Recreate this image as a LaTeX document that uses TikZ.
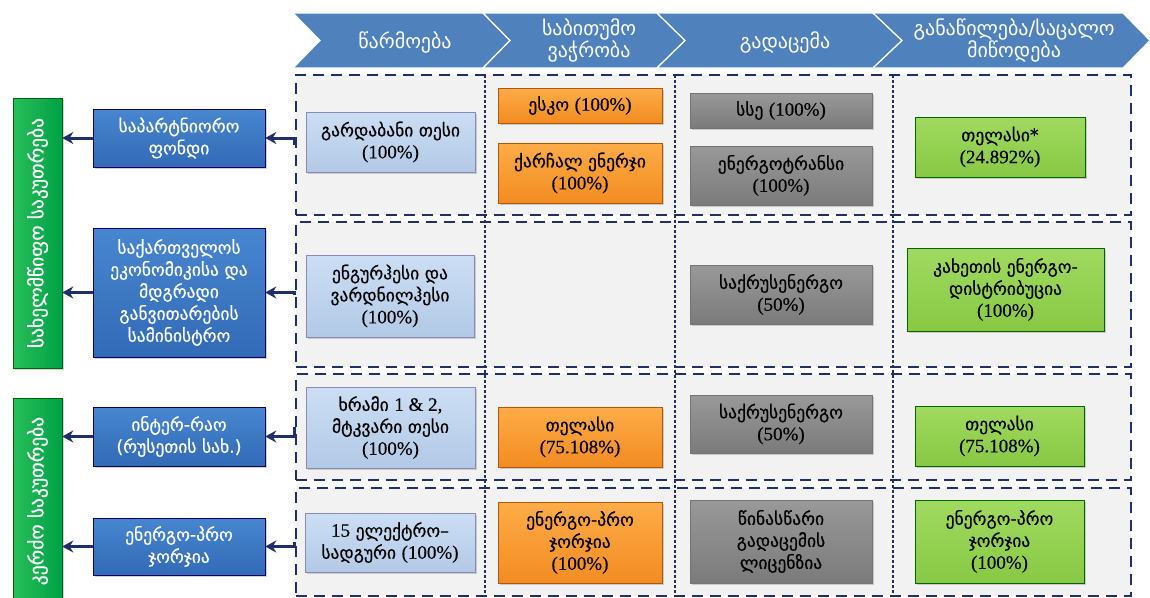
\documentclass[tikz,border=0pt]{standalone}
\usepackage{fontspec}
\setmainfont{DejaVu Sans}
\newfontfamily\heavyfont{DejaVu Sans}[FakeBold=0.5]
\newfontfamily\numfont{Liberation Serif}[FakeBold=0.3]
\usetikzlibrary{arrows.meta,shadows}

\definecolor{chevblue}{HTML}{4F81BD}
\definecolor{navyline}{HTML}{1F2F6B}
\definecolor{rowgray}{HTML}{F2F2F2}
\newcommand{\pshare}[1]{{\numfont\fontsize{19}{22}\selectfont(#1\%)}}

\begin{document}
\begin{tikzpicture}[x=1pt, y=-1pt,
    sz/.style 2 args={minimum width=#1pt, minimum height=#2pt},
    box/.style={rectangle, align=center, inner sep=1pt, line width=0.5pt,
        font=\heavyfont\fontsize{17.5}{22}\selectfont,
        drop shadow={shadow xshift=1.5pt, shadow yshift=-2pt, opacity=0.35}},
    gen/.style={box, draw=white!60!blue!40!gray, top color={rgb,255:red,204;green,222;blue,244}, bottom color={rgb,255:red,178;green,201;blue,230}},
    trade/.style={box, draw=orange!70!black, top color={rgb,255:red,253;green,172;blue,72}, bottom color={rgb,255:red,242;green,140;blue,34}},
    trans/.style={box, draw=black!55, top color=black!40, bottom color=black!52},
    distr/.style={box, draw=green!40!black, top color={rgb,255:red,160;green,218;blue,96}, bottom color={rgb,255:red,136;green,200;blue,68}},
    owner/.style={box, draw=blue!40!black, top color={rgb,255:red,72;green,134;blue,208}, bottom color={rgb,255:red,50;green,106;blue,182}, text=white},
    sector/.style={box, draw=green!40!black, left color={rgb,255:red,40;green,190;blue,90}, right color={rgb,255:red,0;green,160;blue,70}, text=white, rotate=90,
        font=\heavyfont\fontsize{19.5}{22}\selectfont},
    rowbox/.style={rectangle, draw=navyline, fill=rowgray, line width=2.6pt, dash pattern=on 11pt off 7pt},
    coldash/.style={draw=navyline, line width=1.1pt, dash pattern=on 3pt off 2pt},
    chev/.style={fill=chevblue, draw=white, line width=1.2pt},
    head/.style={text=white, align=center, font=\fontsize{20}{22}\selectfont},
    arr/.style={draw=navyline, line width=3pt, -{Stealth[length=11pt, width=12pt]}}]

    \fill[white] (0,0) rectangle (1150,597);
    \useasboundingbox (0,0) rectangle (1150,597);
    \clip (0,0) rectangle (1150,597);

    % header
    \filldraw[chev] (293,13) -- (483,13) -- (510,40.5) -- (483,68) -- (293,68) -- (320,40.5) -- cycle;
    \filldraw[chev] (483,13) -- (657,13) -- (685,40.5) -- (657,68) -- (483,68) -- (510,40.5) -- cycle;
    \filldraw[chev] (657,13) -- (873,13) -- (902,40.5) -- (873,68) -- (657,68) -- (685,40.5) -- cycle;
    \filldraw[chev] (873,13) -- (1123,13) -- (1150,40.5) -- (1123,68) -- (873,68) -- (902,40.5) -- cycle;
    \node[head] (hd1) at (405,42) {წარმოება};
    \node[head] (hd2) at (589,40) {საბითუმო\\ვაჭრობა};
    \node[head] (hd3) at (785,42) {გადაცემა};
    \node[head] (hd4) at (1014,40) {განაწილება/საცალო\\მიწოდება};

    % rows
    \node[rowbox, sz={835}{140}] (row1) at (713.5,145) {};
    \node[rowbox, sz={835}{145}] (row2) at (713.5,294.5) {};
    \node[rowbox, sz={835}{106}] (row3) at (713.5,427) {};
    \node[rowbox, sz={835}{108}] (row4) at (713.5,542) {};

    % column lines
    \draw[coldash] (485,75) -- (485,597);
    \draw[coldash] (675,75) -- (675,597);
    \draw[coldash] (893,75) -- (893,597);

    % production
    \node[gen, sz={169}{60}] (gen1) at (390.5,142) {გარდაბანი თესი\\\pshare{100}};
    \node[gen, sz={168}{82}] (gen2) at (390,296) {ენგურჰესი და\\ვარდნილჰესი\\\pshare{100}};
    \node[gen, sz={169}{81}] (gen3) at (390.5,427.5) {ხრამი {\numfont\fontsize{19}{22}\selectfont 1 \& 2,}\\მტკვარი თესი\\\pshare{100}};
    \node[gen, sz={170}{59}] (gen4) at (390,542.5) {{\numfont\fontsize{19}{22}\selectfont 15} ელექტრო–\\სადგური \pshare{100}};

    % wholesale
    \node[trade, sz={164}{35}] (trd1) at (580,105.5) {ესკო \pshare{100}};
    \node[trade, sz={164}{60}] (trd2) at (580,173) {ქარჩალ ენერჯი\\\pshare{100}};
    \node[trade, sz={164}{60}] (trd3) at (580,437) {თელასი\\\pshare{75.108}};
    \node[trade, sz={164}{81}] (trd4) at (580,542.5) {ენერგო-პრო\\ჯორჯია\\\pshare{100}};

    % transmission
    \node[trans, sz={182}{35}] (trn1) at (781,110.5) {სსე \pshare{100}};
    \node[trans, sz={182}{59}] (trn2) at (781,175.5) {ენერგოტრანსი\\\pshare{100}};
    \node[trans, sz={182}{59}] (trn3) at (781,294.5) {საქრუსენერგო\\\pshare{50}};
    \node[trans, sz={182}{58}] (trn4) at (781,424) {საქრუსენერგო\\\pshare{50}};
    \node[trans, sz={182}{83}] (trn5) at (781,541.5) {წინასწარი\\გადაცემის\\ლიცენზია};

    % distribution
    \node[distr, sz={170}{60}] (dst1) at (1000,147) {თელასი*\\\pshare{24.892}};
    \node[distr, sz={197}{83}] (dst2) at (1005.5,289.5) {კახეთის ენერგო-\\დისტრიბუცია\\\pshare{100}};
    \node[distr, sz={169}{60}] (dst3) at (999.5,436) {თელასი\\\pshare{75.108}};
    \node[distr, sz={169}{83}] (dst4) at (999.5,541.5) {ენერგო-პრო\\ჯორჯია\\\pshare{100}};

    % owners
    \node[owner, sz={172}{58}] (own1) at (179,138) {საპარტნიორო\\ფონდი};
    \node[owner, sz={172}{129}] (own2) at (179,292.5) {საქართველოს\\ეკონომიკისა და\\მდგრადი\\განვითარების\\სამინისტრო};
    \node[owner, sz={172}{59}] (own3) at (179,436.5) {ინტერ-რაო\\(რუსეთის სახ.)};
    \node[owner, sz={172}{57}] (own4) at (179,546.5) {ენერგო-პრო\\ჯორჯია};

    % ownership type
    \node[sector, sz={270}{49}] (state) at (37.5,233) {სახელმწიფო საკუთრება};
    \node[sector, sz={206}{49}] (private) at (37.5,501) {კერძო საკუთრება};

    % arrows
    \draw[arr] (row1.west) |- (own1.east);
    \draw[arr] (row2.west) |- (own2.east);
    \draw[arr] (row3.west) |- (own3.east);
    \draw[arr] (row4.west) |- (own4.east);
    \draw[arr] (own1.west) -- (own1.west -| state.south);
    \draw[arr] (own2.west) -- (own2.west -| state.south);
    \draw[arr] (own3.west) -- (own3.west -| private.south);
    \draw[arr] (own4.west) -- (own4.west -| private.south);

\end{tikzpicture}
\end{document}
